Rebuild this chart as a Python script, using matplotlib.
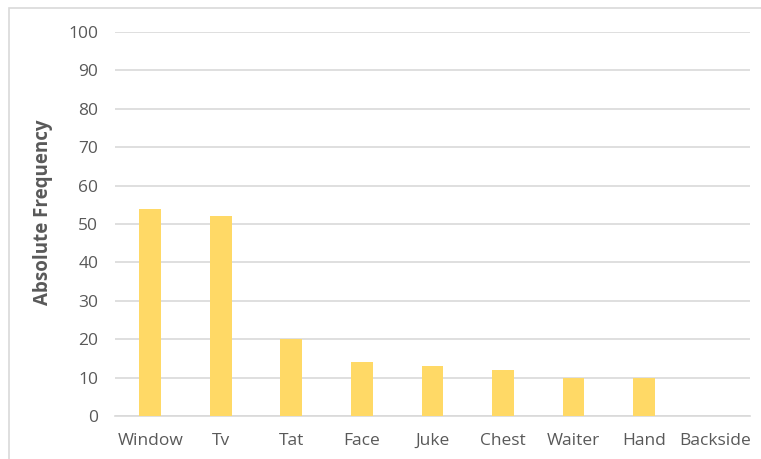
import matplotlib
matplotlib.use('Agg')
import matplotlib.pyplot as plt
from matplotlib.patches import Rectangle

# 數據
categories = ['Window', 'Tv', 'Tat', 'Face', 'Juke', 'Chest', 'Waiter', 'Hand', 'Backside']
frequency = [54, 52, 20, 14, 13, 12, 10, 10, 0]
y_ticks = [0, 10, 20, 30, 40, 50, 60, 70, 80, 90, 100]

text_color = '#595959'
bar_color = '#FFD966'
grid_color = '#D9D9D9'

plt.rcParams['font.family'] = ['Open Sans', 'DejaVu Sans']

fig = plt.figure(figsize=(7.61, 4.59), dpi=100)
ax = fig.add_axes([0.151, 0.0937, 0.8345, 0.8366])

# 外框
fig.patches.append(Rectangle((9 / 761, -0.01), 1.0, 1 - 8 / 459 + 0.01, transform=fig.transFigure,
                             fill=False, edgecolor='#D9D9D9', linewidth=1.2))

x = range(len(categories))
ax.bar(x, frequency, width=0.31, color=bar_color, zorder=3)

ax.set_xlim(-0.5, len(categories) - 0.5)
ax.set_ylim(0, 100)
ax.set_yticks(y_ticks)
ax.set_xticks(list(x))
ax.set_xticklabels(categories)
ax.yaxis.grid(True, color=grid_color, linewidth=1.2, zorder=0)
ax.set_axisbelow(True)

for s in ['top', 'right', 'left']:
    ax.spines[s].set_visible(False)
ax.spines['bottom'].set_color(grid_color)
ax.spines['bottom'].set_linewidth(1.2)

ax.tick_params(axis='both', length=0, labelsize=12.5, colors=text_color)
ax.tick_params(axis='y', pad=12)
ax.tick_params(axis='x', pad=12)

ax.set_ylabel('Absolute Frequency', fontsize=13.5, fontweight='bold', color=text_color)
ax.yaxis.set_label_coords(-0.097, 0.53)

fig.savefig('out.png', dpi=100)
